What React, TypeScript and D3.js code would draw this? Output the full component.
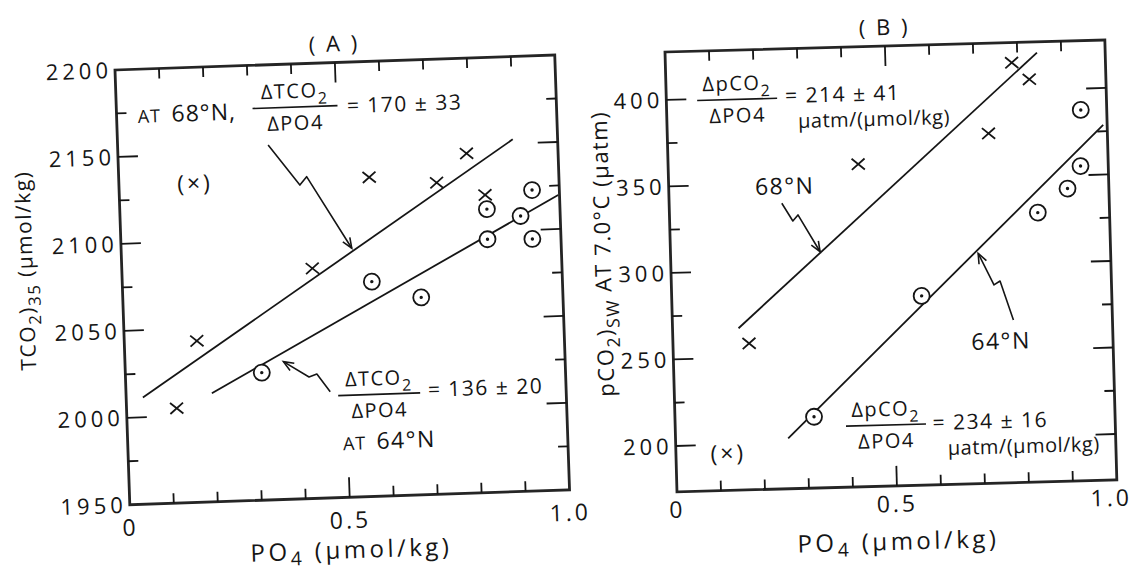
import React from "react";
import * as d3 from "d3";

const FONT = "'Open Sans', 'DejaVu Sans', sans-serif";
const INK = "#151515";
const FW = 400;

// ---------- shared axis ticks ----------
const xMinorTicks = [0.1, 0.2, 0.3, 0.4, 0.5, 0.6, 0.7, 0.8, 0.9];
const xMajorTicks = [0.5];
const xLabelValues = [0, 0.5, 1.0];
const xTickLabels = ["0", "0.5", "1.0"];

// ---------- Panel A : TCO2 vs PO4 ----------
const aYTicks = [1975, 2000, 2025, 2050, 2075, 2100, 2125, 2150, 2175];
const aYMajor = [2000, 2050, 2100, 2150];
const aYLabelValues = [1950, 2000, 2050, 2100, 2150, 2200];
const aYTickLabels = ["1950", "2000", "2050", "2100", "2150", "2200"];

const aPO4_68N = [0.114, 0.165, 0.433, 0.569, 0.722, 0.792, 0.831];
const aTCO2_68N = [2004.5, 2042.8, 2082.2, 2133.4, 2129.0, 2145.2, 2121.0];
const aPO4_64N = [0.31, 0.567, 0.678, 0.833, 0.834, 0.91, 0.938, 0.935];
const aTCO2_64N = [2023.3, 2073.4, 2063.4, 2095.5, 2112.8, 2108.2, 2122.9, 2094.8];
const aExcluded = [0.173, 2133.4];
const aFit68N = [[0.038, 2011.3], [0.898, 2152.4]];
const aFit64N = [[0.195, 2012.4], [0.997, 2119.5]];

// ---------- Panel B : pCO2 vs PO4 ----------
const bYTicks = [200, 225, 250, 275, 300, 325, 350, 375, 400];
const bYMajor = [200, 250, 300, 350, 400];
const bYLabelValues = [200, 250, 300, 350, 400];
const bYTickLabels = ["200", "250", "300", "350", "400"];

const bPO4_68N = [0.787, 0.826, 0.73, 0.432, 0.173];
const bPCO2_68N = [416.1, 406.2, 375.6, 359.9, 258.1];
const bPO4_64N = [0.316, 0.568, 0.837, 0.906, 0.937, 0.941];
const bPCO2_64N = [214.7, 282.8, 329.1, 342.5, 355.3, 387.7];
const bExcluded = [0.119, 195];
const bFit68N = [[0.15, 267.0], [0.845, 421.5]];
const bFit64N = [[0.256, 202.6], [0.991, 378.7]];

type P = [number, number];
type Seg = [string, boolean];

function Rich({ segs, fs, subShift = 0.32, ...rest }: any) {
  let shifted = false;
  const out = segs.map(([t, sub]: Seg, i: number) => {
    let dy: number | undefined;
    if (sub && !shifted) { dy = fs * subShift; shifted = true; }
    else if (!sub && shifted) { dy = -fs * subShift; shifted = false; }
    return (
      <tspan key={i} dy={dy} fontSize={sub ? fs * 0.8 : fs}>{t}</tspan>
    );
  });
  return (
    <text fontFamily={FONT} fontWeight={FW} fill={INK} fontSize={fs} {...rest}>{out}</text>
  );
}

function arrowHead(p: P, q: P, len = 11, angDeg = 22) {
  const dx = q[0] - p[0], dy = q[1] - p[1];
  const L = Math.hypot(dx, dy);
  const ux = dx / L, uy = dy / L;
  const a = (angDeg * Math.PI) / 180;
  const r = (s: number): P => [ux * Math.cos(s) - uy * Math.sin(s), ux * Math.sin(s) + uy * Math.cos(s)];
  const [ax, ay] = r(a), [bx, by] = r(-a);
  return `M${q[0] - len * ax},${q[1] - len * ay}L${q[0]},${q[1]}L${q[0] - len * bx},${q[1] - len * by}`;
}

function Panel({ cfg }: any) {
  const x = d3.scaleLinear().domain([0, 1]).range([0, cfg.w]);
  const y = d3.scaleLinear().domain(cfg.yDomain).range([cfg.h, 0]);
  const px = (d: number[]): P => [x(d[0]), y(d[1])];
  const line = d3.line<number[]>().x((d) => x(d[0])).y((d) => y(d[1]));
  const MAJ = 20, MIN = 10;
  const stroke = { stroke: INK, strokeWidth: 1.8, fill: "none" };

  return (
    <g transform={`translate(${cfg.tx},${cfg.ty}) rotate(${cfg.rot})`}>
      {/* frame */}
      <rect x={0} y={0} width={cfg.w} height={cfg.h} fill="none" stroke="#252525" strokeWidth={2.8} />
      {/* x ticks top & bottom */}
      {xMinorTicks.map((v) => {
        const L = xMajorTicks.includes(v) ? MAJ : MIN;
        return (
          <g key={"xt" + v}>
            <line x1={x(v)} x2={x(v)} y1={cfg.h} y2={cfg.h - L} {...stroke} />
            <line x1={x(v)} x2={x(v)} y1={0} y2={L} {...stroke} />
          </g>
        );
      })}
      {/* y ticks left & right */}
      {cfg.yTicks.map((v: number) => {
        const L = cfg.yMajor.includes(v) ? MAJ : MIN;
        return (
          <g key={"yt" + v}>
            <line x1={0} x2={L} y1={y(v)} y2={y(v)} {...stroke} />
            <line x1={cfg.w} x2={cfg.w - L} y1={y(v)} y2={y(v)} {...stroke} />
          </g>
        );
      })}
      {/* tick labels */}
      {xLabelValues.map((v, i) => (
        <text key={"xl" + v} x={x(v)} y={cfg.h + cfg.xLabelDy} dx={i === 2 ? cfg.lastLabelDx : 0}
          textAnchor="middle" fontFamily={FONT} fontWeight={FW} fontSize={23} letterSpacing={3} fill={INK}>
          {xTickLabels[i]}
        </text>
      ))}
      {cfg.yLabelValues.map((v: number, i: number) => (
        <text key={"yl" + v} x={-3} y={y(v)} dy="0.36em" textAnchor="end"
          fontFamily={FONT} fontWeight={FW} fontSize={22} letterSpacing={4} fill={INK}>
          {cfg.yTickLabels[i]}
        </text>
      ))}
      {/* fit lines */}
      <path d={line(cfg.fit68) || ""} {...stroke} />
      <path d={line(cfg.fit64) || ""} {...stroke} />
      {/* arrows */}
      {cfg.arrows.map((pts: number[][], i: number) => {
        const pp = pts.map(px);
        return (
          <g key={"ar" + i}>
            <path d={line(pts) || ""} {...stroke} strokeWidth={1.6} strokeLinejoin="round" />
            <path d={arrowHead(pp[pp.length - 2], pp[pp.length - 1])} {...stroke} strokeWidth={1.6} />
          </g>
        );
      })}
      {/* 68N crosses */}
      {cfg.xs68.map((xv: number, i: number) => {
        const [cx, cy] = px([xv, cfg.ys68[i]]);
        return (
          <path key={"c" + i} d={`M${cx - 6.5},${cy - 5.5}L${cx + 6.5},${cy + 5.5}M${cx - 6.5},${cy + 5.5}L${cx + 6.5},${cy - 5.5}`}
            stroke={INK} strokeWidth={1.8} />
        );
      })}
      {/* 64N circled dots */}
      {cfg.xs64.map((xv: number, i: number) => {
        const [cx, cy] = px([xv, cfg.ys64[i]]);
        return (
          <g key={"o" + i}>
            <circle cx={cx} cy={cy} r={8} fill="#fff" stroke={INK} strokeWidth={1.8} />
            <circle cx={cx} cy={cy} r={1.7} fill={INK} />
          </g>
        );
      })}
      {/* excluded point */}
      <text x={x(cfg.excluded[0])} y={y(cfg.excluded[1])} dy="0.35em" textAnchor="middle"
        fontFamily={FONT} fontWeight={FW} fontSize={23} letterSpacing={3} fill={INK}>(×)</text>
      {/* annotations */}
      {cfg.texts.map((t: any, i: number) => (
        <Rich key={"tx" + i} segs={t.segs} fs={t.fs} x={x(t.at[0])} y={y(t.at[1])}
          textAnchor={t.anchor || "start"} letterSpacing={t.ls ?? 1.5} />
      ))}
      {cfg.fracs.map((f: any, i: number) => {
        const [cx, cy] = px(f.at);
        return (
          <g key={"fr" + i}>
            <Rich segs={f.num} fs={f.fs} x={cx} y={cy - 9} textAnchor="middle" letterSpacing={1.5} />
            <line x1={cx - f.bw / 2} x2={cx + f.bw / 2} y1={cy} y2={cy} {...stroke} strokeWidth={1.6} />
            <Rich segs={f.den} fs={f.fs} x={cx} y={cy + 23} textAnchor="middle" letterSpacing={1.5} />
          </g>
        );
      })}
      {/* titles */}
      <text x={cfg.w / 2} y={-11} textAnchor="middle" fontFamily={FONT} fontWeight={FW}
        fontSize={22} letterSpacing={2.5} fill={INK}>{cfg.title}</text>
      <Rich segs={cfg.xTitle} fs={24} subShift={0.22} x={cfg.w / 2} y={cfg.h + cfg.xTitleDy}
        textAnchor="middle" letterSpacing={3.5} />
      <Rich segs={cfg.yTitle} fs={cfg.yTitleFs} x={0} y={0} textAnchor="middle" letterSpacing={1.5}
        transform={`translate(${cfg.yTitleX},${cfg.h / 2 - 20}) rotate(-90)`} />
    </g>
  );
}

const xTitleSegs: Seg[] = [["PO", false], ["4", true], [" (μmol/kg)", false]];

const panelA = {
  tx: 115, ty: 70, rot: -1.95, w: 440, h: 435,
  yDomain: [1950, 2200], yTicks: aYTicks, yMajor: aYMajor,
  yLabelValues: aYLabelValues, yTickLabels: aYTickLabels, xLabelDy: 31, lastLabelDx: 0,
  xs68: aPO4_68N, ys68: aTCO2_68N, xs64: aPO4_64N, ys64: aTCO2_64N,
  excluded: aExcluded, fit68: aFit68N, fit64: aFit64N,
  title: "( A )", xTitle: xTitleSegs, xTitleDy: 61,
  yTitle: [["TCO", false], ["2", true], [")", false], ["35", true], [" (μmol/kg)", false]],
  yTitleX: -89, yTitleFs: 21,
  arrows: [
    [[0.342, 2153.9], [0.411, 2130.3], [0.427, 2135.0], [0.524, 2093.0]],
    [[0.464, 2011.0], [0.435, 2021.4], [0.417, 2019.9], [0.36, 2029.2]],
  ],
  texts: [
    { at: [0.048, 2169.1], fs: 18, segs: [["AT", false]], ls: 1 },
    { at: [0.125, 2169.1], fs: 23, segs: [["68°N,", false]], ls: 1 },
    { at: [0.524, 2170.7], fs: 21, segs: [["= 170 ± 33", false]], ls: 1.5 },
    { at: [0.686, 2006.1], fs: 21, segs: [["= 136 ± 20", false]], ls: 1.5 },
    { at: [0.489, 1977.2], fs: 18, segs: [["AT", false]], ls: 1 },
    { at: [0.565, 1977.2], fs: 23, segs: [["64°N", false]], ls: 1.5 },
  ],
  fracs: [
    { at: [0.406, 2175.2], bw: 85, fs: 20, num: [["ΔTCO", false], ["2", true]], den: [["ΔPO4", false]] },
    { at: [0.575, 2008.6], bw: 82, fs: 20, num: [["ΔTCO", false], ["2", true]], den: [["ΔPO4", false]] },
  ],
};

const panelB = {
  tx: 665, ty: 52, rot: -1.56, w: 440, h: 440,
  yDomain: [173.5, 427.7], yTicks: bYTicks, yMajor: bYMajor,
  yLabelValues: bYLabelValues, yTickLabels: bYTickLabels, xLabelDy: 26, lastLabelDx: -6,
  xs68: bPO4_68N, ys68: bPCO2_68N, xs64: bPO4_64N, ys64: bPCO2_64N,
  excluded: bExcluded, fit68: bFit68N, fit64: bFit64N,
  title: "( B )", xTitle: xTitleSegs, xTitleDy: 64,
  yTitle: [["pCO", false], ["2", true], [")", false], ["SW", true], [" AT 7.0°C (μatm)", false]],
  yTitleX: -60, yTitleFs: 22,
  arrows: [
    [[0.256, 338.5], [0.28, 328.1], [0.292, 331.5], [0.34, 309.9]],
    [[0.775, 267.4], [0.747, 290.2], [0.733, 288.0], [0.699, 306.5]],
  ],
  texts: [
    { at: [0.27, 396.3], fs: 21, segs: [["= 214 ± 41", false]], ls: 1.5 },
    { at: [0.298, 381.7], fs: 20, segs: [["μatm/(μmol/kg)", false]], ls: 0.5 },
    { at: [0.196, 343.7], fs: 23, segs: [["68°N", false]], ls: 1.5 },
    { at: [0.678, 250.8], fs: 23, segs: [["64°N", false]], ls: 1.5 },
    { at: [0.585, 205.2], fs: 21, segs: [["= 234 ± 16", false]], ls: 1.5 },
    { at: [0.618, 190.5], fs: 20, segs: [["μatm/(μmol/kg)", false]], ls: 0.5 },
  ],
  fracs: [
    { at: [0.161, 399.2], bw: 80, fs: 20, num: [["ΔpCO", false], ["2", true]], den: [["ΔPO4", false]] },
    { at: [0.479, 208.8], bw: 80, fs: 20, num: [["ΔpCO", false], ["2", true]], den: [["ΔPO4", false]] },
  ],
};

export default function App() {
  return (
    <svg width={1131} height={575} viewBox="0 0 1131 575"
      style={{ position: "absolute", left: 0, top: 0, background: "#fff" }}>
      <rect x={0} y={0} width={1131} height={575} fill="#fff" />
      <Panel cfg={panelA} />
      <Panel cfg={panelB} />
    </svg>
  );
}
